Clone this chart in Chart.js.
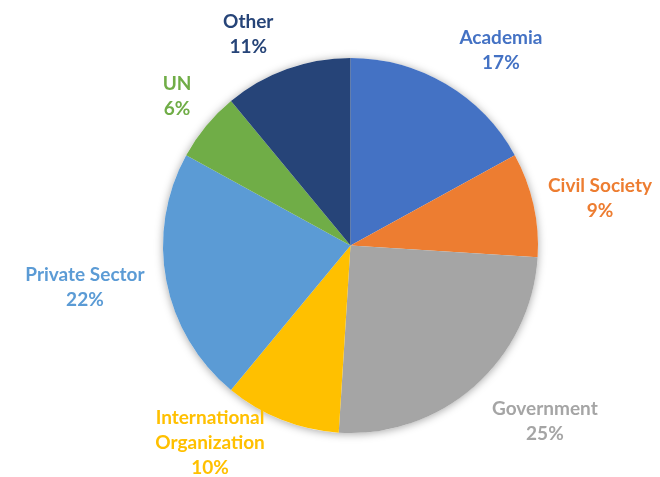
<!DOCTYPE html>
<html>
<head>
<meta charset="utf-8">
<script src="https://cdn.jsdelivr.net/npm/chart.js@4/dist/chart.umd.min.js"></script>
<style>
  html, body { margin: 0; padding: 0; background: #ffffff; }
  #wrap { width: 660px; height: 477px; }
</style>
</head>
<body>
<div id="wrap"><canvas id="c" width="660" height="477"></canvas></div>
<script>
// ---- data ----
const categories = ["Academia", "Civil Society", "Government", "International Organization", "Private Sector", "UN", "Other"];
const labelLines = [["Academia"], ["Civil Society"], ["Government"], ["International", "Organization"], ["Private Sector"], ["UN"], ["Other"]];
const shares = [17, 9, 25, 10, 22, 6, 11];
const sliceColors = ["#4472C4", "#ED7D31", "#A5A5A5", "#FFC000", "#5B9BD5", "#70AD47", "#264478"];

// ---- label placement (Excel best-fit mimic): angular nudge (deg) and distance beyond the rim (px) ----
const labelAngleNudge = [7, 1.8, -6.5, 13.8, 1.8, 1, -6];
const labelRimGap = [59, 66.5, 74.5, 55, 81.4, 41, 47.5];

const FONT = 'bold 19px Lato, "Open Sans", "Liberation Sans", sans-serif';
const LINE_H = 25;

const shadowPlugin = {
  id: 'pieShadow',
  beforeDatasetsDraw(chart) {
    const arc = chart.getDatasetMeta(0).data[0];
    if (!arc) return;
    const ctx = chart.ctx;
    ctx.save();
    ctx.shadowColor = 'rgba(0,0,0,0.35)';
    ctx.shadowBlur = 9;
    ctx.shadowOffsetX = 0;
    ctx.shadowOffsetY = 1;
    ctx.fillStyle = '#ffffff';
    ctx.beginPath();
    ctx.arc(arc.x, arc.y, arc.outerRadius, 0, Math.PI * 2);
    ctx.fill();
    ctx.restore();
  }
};

const labelPlugin = {
  id: 'outsideLabels',
  afterDatasetsDraw(chart) {
    const meta = chart.getDatasetMeta(0);
    const ctx = chart.ctx;
    ctx.save();
    ctx.font = FONT;
    ctx.textAlign = 'center';
    ctx.textBaseline = 'middle';
    meta.data.forEach((arc, i) => {
      const mid = (arc.startAngle + arc.endAngle) / 2 + labelAngleNudge[i] * Math.PI / 180;
      const R = arc.outerRadius + labelRimGap[i];
      const cx = arc.x + Math.cos(mid) * R;
      const cy = arc.y + Math.sin(mid) * R;
      const lines = labelLines[i].concat([shares[i] + '%']);
      const top = cy - (lines.length - 1) * LINE_H / 2;
      ctx.fillStyle = sliceColors[i];
      lines.forEach((t, k) => ctx.fillText(t, cx, top + k * LINE_H));
    });
    ctx.restore();
  }
};

new Chart(document.getElementById('c'), {
  type: 'pie',
  data: {
    labels: categories,
    datasets: [{
      data: shares,
      backgroundColor: sliceColors,
      borderWidth: 0
    }]
  },
  options: {
    responsive: false,
    animation: false,
    layout: { padding: { top: 58, bottom: 44, left: 163, right: 122 } },
    plugins: {
      legend: { display: false },
      tooltip: { enabled: false },
      title: { display: false }
    }
  },
  plugins: [shadowPlugin, labelPlugin]
});
</script>
</body>
</html>
